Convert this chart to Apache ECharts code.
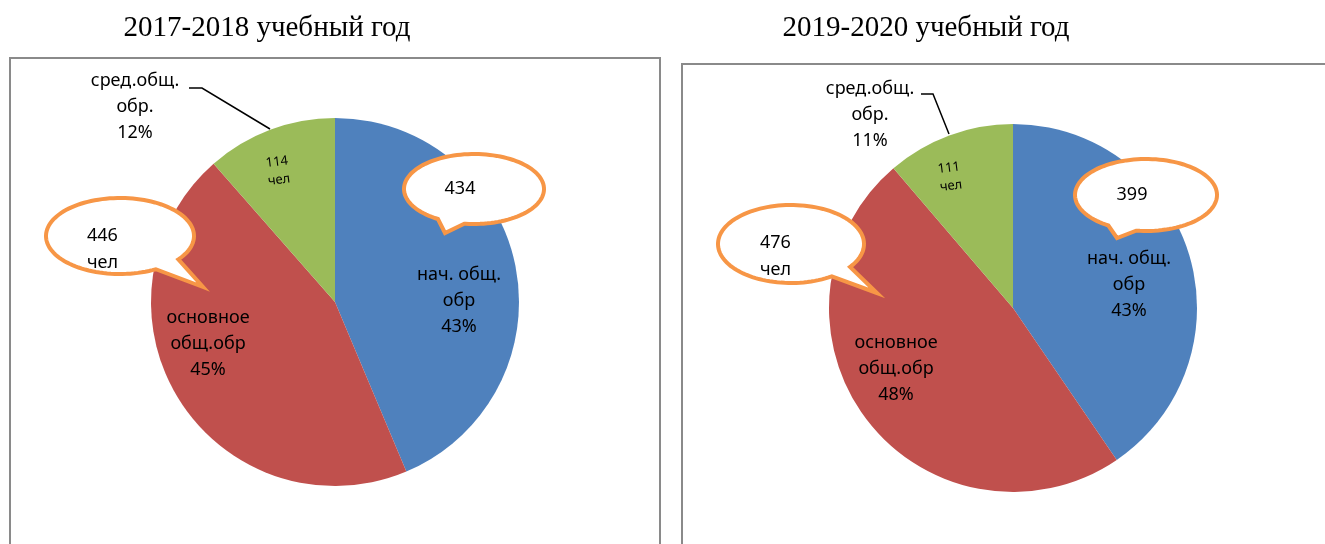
<!DOCTYPE html>
<html lang="ru">
<head>
    <meta charset="UTF-8">
    <title>Контингент по уровням образования</title>
    <script src="https://cdn.jsdelivr.net/npm/echarts@6/dist/echarts.min.js"></script>
    <style>
        html, body { margin: 0; padding: 0; background: #fff; }
        #main { width: 1325px; height: 544px; }
    </style>
</head>
<body>
<div id="main"></div>
<script type="text/javascript">
    // данные
    var categories = ['нач. общ.\nобр', 'основное\nобщ.обр', 'сред.общ.\nобр.'];
    var values2018 = [434, 446, 114];
    var values2020 = [399, 476, 111];
    var pct2018 = ['43%', '45%', '12%'];
    var pct2020 = ['43%', '48%', '11%'];
    var titles = ['2017-2018 учебный год', '2019-2020 учебный год'];
    var colors = ['#4F81BD', '#C0504D', '#9BBB59'];

    // расположение (пиксели)
    var layouts = [
        {
            values: values2018, pct: pct2018, title: titles[0],
            center: [335, 302], titleX: 267, box: [10, 58, 650, 520],
            labelPos: [[459, 301], [208, 344], [278, 171]],
            outsidePos: [135, 107],
            leader: [[270, 129], [202, 88], [189, 88]],
            bubbles: [
                {i: 0, c: [474, 189], rx: 70, ry: 35, a1: 98, a2: 121, tip: [445, 233], tx: 460, ty: 189, align: 'center'},
                {i: 1, c: [120, 236], rx: 74, ry: 38, a1: 38, a2: 61, tip: [203, 287], tx: 87, ty: 222, align: 'left'}
            ]
        },
        {
            values: values2020, pct: pct2020, title: titles[1],
            center: [1013, 308], titleX: 926, box: [682, 64, 700, 520],
            labelPos: [[1129, 285], [896, 369], [950, 177]],
            outsidePos: [870, 115],
            leader: [[949, 134], [933, 94], [921, 94]],
            bubbles: [
                {i: 0, c: [1146, 195], rx: 71, ry: 36, a1: 98, a2: 122, tip: [1117, 238], tx: 1132, ty: 195, align: 'center'},
                {i: 1, c: [791, 244], rx: 73, ry: 39, a1: 36, a2: 56, tip: [877, 293], tx: 760, ty: 229, align: 'left'}
            ]
        }
    ];

    var font = 'Noto Sans';

    // выноска: эллипс с хвостиком
    function bubblePoints(b) {
        var pts = [b.tip];
        for (var a = b.a2; a <= b.a1 + 360; a += 3) {
            var r = a * Math.PI / 180;
            pts.push([b.c[0] + b.rx * Math.cos(r), b.c[1] + b.ry * Math.sin(r)]);
        }
        var e = (b.a1 + 360) * Math.PI / 180;
        pts.push([b.c[0] + b.rx * Math.cos(e), b.c[1] + b.ry * Math.sin(e)]);
        return pts;
    }

    var myChart = echarts.init(document.getElementById('main'));

    var series = [];
    var graphic = [];
    var title = [];

    layouts.forEach(function (L) {
        title.push({
            text: L.title,
            left: L.titleX,
            top: 14,
            textAlign: 'center',
            padding: 0,
            textStyle: {fontFamily: 'Liberation Serif', fontSize: 29, fontWeight: 'normal', color: '#000'}
        });

        graphic.push({
            type: 'rect',
            shape: {x: L.box[0], y: L.box[1], width: L.box[2], height: L.box[3]},
            style: {fill: 'none', stroke: '#8a8a8a', lineWidth: 2},
            z: 0
        });

        var mainData = L.values.map(function (v, i) {
            var item = {name: categories[i], value: v, itemStyle: {color: colors[i]}};
            if (i === 2) {
                item.label = {fontSize: 13, lineHeight: 18, rotate: 7};
            }
            return item;
        });
        var overlayData = L.values.map(function (v, i) {
            return {
                name: categories[i], value: v,
                label: {show: i === 2},
                labelLine: {show: i === 2}
            };
        });

        series.push({
            type: 'pie',
            center: L.center,
            radius: 184,
            startAngle: 90,
            clockwise: true,
            silent: true,
            itemStyle: {borderWidth: 0},
            label: {
                show: true,
                position: 'inside',
                fontFamily: font,
                fontSize: 18,
                lineHeight: 26,
                color: '#000',
                formatter: function (p) {
                    if (p.dataIndex === 2) return p.value + '\nчел';
                    return p.name + '\n' + L.pct[p.dataIndex];
                }
            },
            labelLine: {show: false},
            labelLayout: function (p) {
                var pos = L.labelPos[p.dataIndex];
                return {x: pos[0], y: pos[1], align: 'center', verticalAlign: 'middle'};
            },
            data: mainData
        });

        series.push({
            type: 'pie',
            center: L.center,
            radius: 184,
            startAngle: 90,
            clockwise: true,
            silent: true,
            z: 3,
            itemStyle: {color: 'rgba(0,0,0,0)'},
            label: {
                position: 'outside',
                fontFamily: font,
                fontSize: 18,
                lineHeight: 26,
                color: '#000',
                align: 'center',
                formatter: function (p) {
                    return p.name + '\n' + L.pct[p.dataIndex];
                }
            },
            labelLine: {lineStyle: {color: '#000', width: 1.5}},
            labelLayout: function (p) {
                if (p.dataIndex !== 2) return {};
                return {
                    x: L.outsidePos[0], y: L.outsidePos[1],
                    align: 'center', verticalAlign: 'middle',
                    labelLinePoints: L.leader
                };
            },
            data: overlayData
        });

        L.bubbles.forEach(function (b) {
            graphic.push({
                type: 'polygon',
                z: 100,
                shape: {points: bubblePoints(b)},
                style: {fill: '#fff', stroke: '#F79646', lineWidth: 4, lineJoin: 'miter'}
            });
            var txt = b.i === 0 ? String(L.values[b.i]) : L.values[b.i] + '\nчел';
            graphic.push({
                type: 'text',
                z: 101,
                x: b.tx,
                y: b.ty,
                style: {
                    text: txt,
                    font: '18px "' + font + '"',
                    fill: '#000',
                    align: b.align,
                    verticalAlign: b.align === 'center' ? 'middle' : 'top',
                    lineHeight: 27
                }
            });
        });
    });

    var option = {
        animation: false,
        title: title,
        graphic: graphic,
        series: series
    };

    myChart.setOption(option);
</script>
</body>
</html>
